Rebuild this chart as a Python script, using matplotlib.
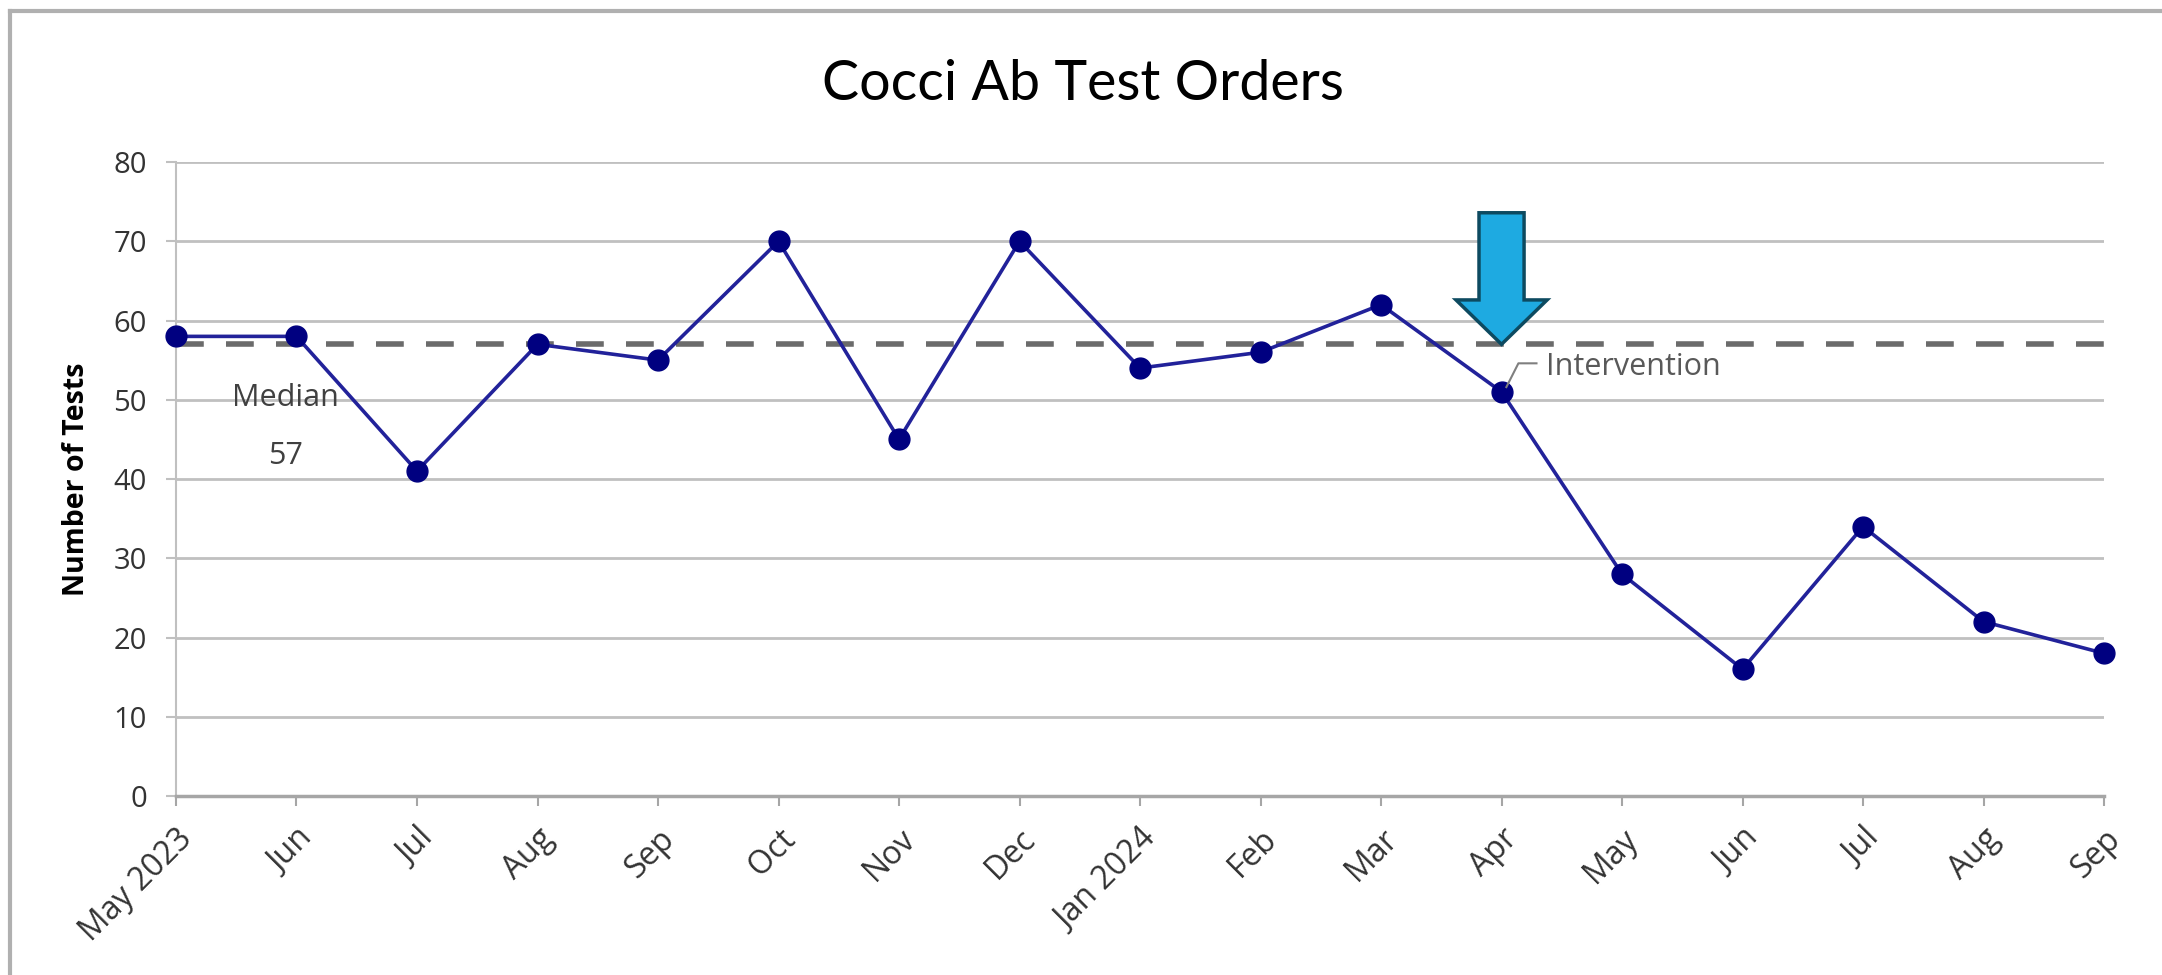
"""Cocci Ab test orders run chart with median line and intervention marker."""

import matplotlib
matplotlib.use("Agg")
import matplotlib.pyplot as plt
from matplotlib.lines import Line2D
from matplotlib.patches import Polygon
import numpy as np

months = ["May 2023", "Jun", "Jul", "Aug", "Sep", "Oct", "Nov", "Dec",
          "Jan 2024", "Feb", "Mar", "Apr", "May", "Jun", "Jul", "Aug", "Sep"]
tests = [58, 58, 41, 57, 55, 70, 45, 70, 54, 56, 62, 51, 28, 16, 34, 22, 18]
median_value = 57
intervention_month = "Apr"
y_ticks = [0, 10, 20, 30, 40, 50, 60, 70, 80]

BASE_FONT = ["Open Sans", "DejaVu Sans"]
TITLE_FONT = ["Lato", "DejaVu Sans"]

fig = plt.figure(figsize=(21.62, 9.75), dpi=100)
ax = fig.add_axes([0.0814, 0.1836, 0.8918, 0.6502])

x = np.arange(len(months))
ax.plot(x, tests, color="#22229a", linewidth=2.6, zorder=4, clip_on=False)
ax.plot(x, tests, linestyle="none", marker="o", markersize=15,
        color="#000080", zorder=5, clip_on=False)

# median reference line
ax.axhline(median_value, color="#6b6b6b", linewidth=4, dashes=(5, 4), zorder=3)
ax.text(0.905, 50.2, "Median", ha="center", va="center", fontsize=22,
        color="#404040", family=BASE_FONT)
ax.text(0.905, 42.9, str(median_value), ha="center", va="center", fontsize=22,
        color="#404040", family=BASE_FONT)

# intervention arrow, tip resting on the median line
xi = months.index(intervention_month, 11)
top, head_base = 73.6, 62.6
shaft_w, head_w = 0.187, 0.378
arrow = Polygon([(xi - shaft_w, top), (xi + shaft_w, top), (xi + shaft_w, head_base),
                 (xi + head_w, head_base), (xi, median_value), (xi - head_w, head_base),
                 (xi - shaft_w, head_base)],
                closed=True, facecolor="#1eaae1", edgecolor="#0d4a60",
                linewidth=2.5, zorder=6)
ax.add_patch(arrow)

yi = tests[xi]
ax.plot([xi + 0.04, xi + 0.14, xi + 0.29], [yi + 0.6, yi + 3.6, yi + 3.6],
        color="#7f7f7f", linewidth=1.5, zorder=6)
ax.text(xi + 0.37, yi + 3.1, "Intervention", ha="left", va="center",
        fontsize=22, color="#595959", family=BASE_FONT)

ax.set_xlim(0, len(months) - 1)
ax.set_ylim(0, 80)
ax.set_yticks(y_ticks)
ax.set_xticks(x)
ax.set_xticklabels(months, rotation=45, ha="right", va="top",
                   rotation_mode="anchor", family=BASE_FONT, fontsize=23,
                   color="#333333")
for lab in ax.get_yticklabels():
    lab.set_family(BASE_FONT)
    lab.set_fontsize(21)
    lab.set_color("#333333")

ax.grid(axis="y", color="#c0c0c0", linewidth=2)
ax.set_axisbelow(True)
ax.tick_params(axis="y", length=7, width=1.5, color="#c0c0c0", pad=14)
ax.tick_params(axis="x", length=7, width=1.5, color="#a6a6a6", pad=12)
for side in ("top", "right"):
    ax.spines[side].set_visible(False)
ax.spines["left"].set_color("#c0c0c0")
ax.spines["left"].set_linewidth(1.5)
ax.spines["bottom"].set_color("#a6a6a6")
ax.spines["bottom"].set_linewidth(2.5)

ax.set_ylabel("Number of Tests", fontsize=20.5, fontweight="bold",
              family=BASE_FONT, labelpad=16)

fig.text(0.501, 0.913, "Cocci Ab Test Orders", ha="center", va="center",
         fontsize=40, family=TITLE_FONT, color="#000000")

# chart frame (left and top edges)
fig.add_artist(Line2D([0.0044, 0.0044], [0.0, 0.9887], color="#b0b0b0",
                      linewidth=3, transform=fig.transFigure))
fig.add_artist(Line2D([0.0044, 1.0], [0.9887, 0.9887], color="#b0b0b0",
                      linewidth=3, transform=fig.transFigure))

fig.savefig("out.png", dpi=100)
